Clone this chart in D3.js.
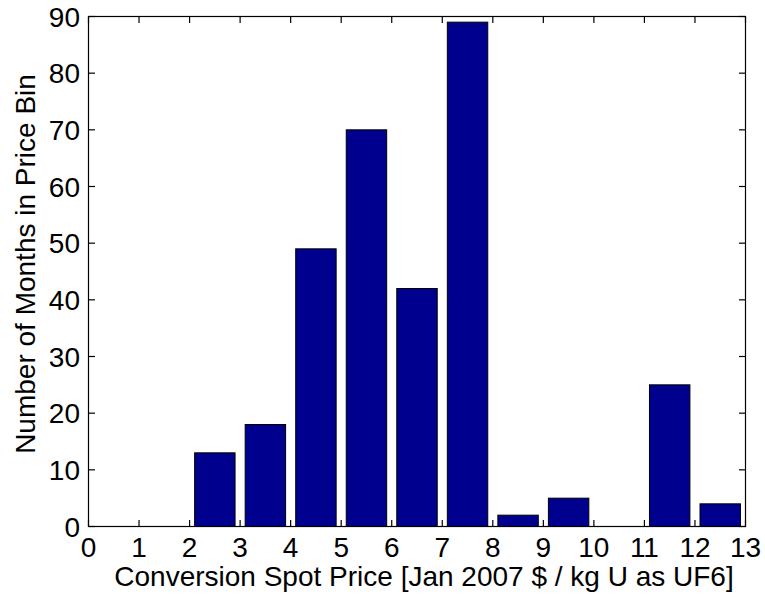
<!DOCTYPE html>
<html><head><meta charset="utf-8">
<script src="https://cdn.jsdelivr.net/npm/d3@7"></script>
<style>body{margin:0;background:#fff}svg{display:block}text{font-family:"Liberation Sans",Arial,sans-serif;fill:#000}</style>
</head><body><svg id="c" width="765" height="598"></svg>
<script>
const binCenters = [0.5,1.5,2.5,3.5,4.5,5.5,6.5,7.5,8.5,9.5,10.5,11.5,12.5];
const counts     = [0,0,13,18,49,70,42,89,2,5,0,25,4];
const xTicks = [0,1,2,3,4,5,6,7,8,9,10,11,12,13];
const yTicks = [0,10,20,30,40,50,60,70,80,90];
const xLabel = "Conversion Spot Price [Jan 2007 $ / kg U as UF6]";
const yLabel = "Number of Months in Price Bin";

const L=88.5, R=745.5, T=16.5, B=526.5;
const svg=d3.select("#c");
const x=d3.scaleLinear().domain([0,13]).range([L,R]);
const y=d3.scaleLinear().domain([0,90]).range([B,T]);
const bw=0.8;

svg.append("g").selectAll("rect").data(binCenters.map((c,i)=>({c,v:counts[i]})).filter(d=>d.v>0))
 .join("rect")
 .attr("x",d=>x(d.c-bw/2)).attr("width",d=>x(d.c+bw/2)-x(d.c-bw/2))
 .attr("y",d=>y(d.v)).attr("height",d=>y(0)-y(d.v))
 .attr("fill","#00008F").attr("stroke","#000").attr("stroke-width",1);

const tl=6.5;
const g=svg.append("g").attr("stroke","#000").attr("stroke-width",1.2);
xTicks.forEach(t=>{
  g.append("line").attr("x1",x(t)).attr("x2",x(t)).attr("y1",B).attr("y2",B-tl);
  g.append("line").attr("x1",x(t)).attr("x2",x(t)).attr("y1",T).attr("y2",T+tl);
});
yTicks.forEach(t=>{
  g.append("line").attr("x1",L).attr("x2",L+tl).attr("y1",y(t)).attr("y2",y(t));
  g.append("line").attr("x1",R).attr("x2",R-tl).attr("y1",y(t)).attr("y2",y(t));
});
g.append("rect").attr("x",L).attr("y",T).attr("width",R-L).attr("height",B-T).attr("fill","none");

const fs=28;
svg.append("g").selectAll("text").data(xTicks).join("text")
 .attr("x",d=>x(d)).attr("y",557).attr("text-anchor","middle").attr("font-size",fs).text(d=>d);
svg.append("g").selectAll("text").data(yTicks).join("text")
 .attr("x",L-8.5).attr("y",d=>y(d)+10).attr("text-anchor","end").attr("font-size",fs).text(d=>d);
svg.append("text").attr("x",424).attr("y",586).attr("text-anchor","middle").attr("font-size",fs).text(xLabel);
svg.append("text").attr("transform",`translate(35,264) rotate(-90)`).attr("text-anchor","middle").attr("font-size",fs).text(yLabel);
</script></body></html>
